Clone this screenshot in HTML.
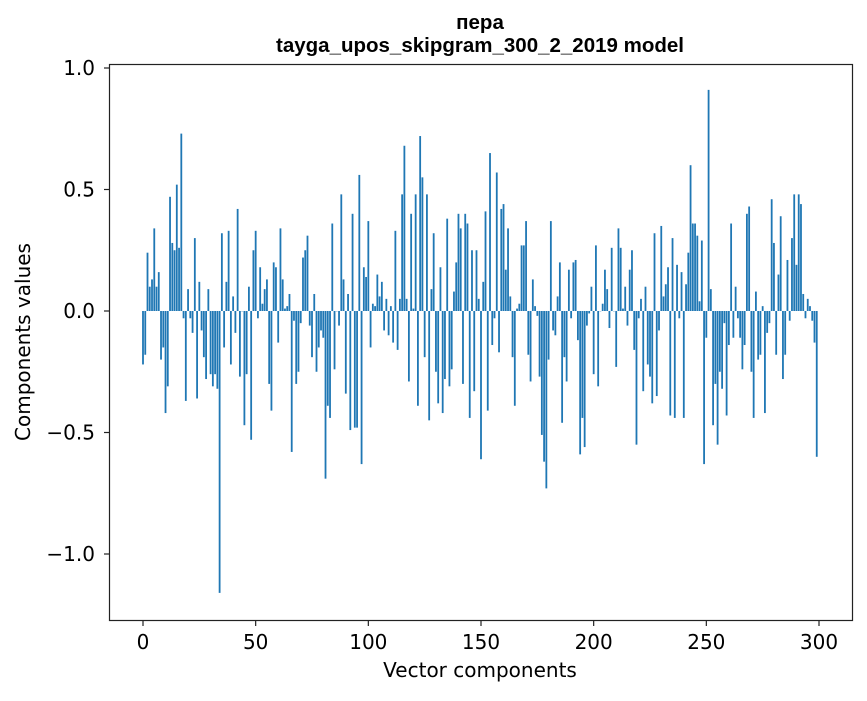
<!DOCTYPE html>
<html><head><meta charset="utf-8"><style>
body{margin:0;background:#fff;}
svg text{font-family:"DejaVu Sans","Liberation Sans",sans-serif;fill:#000;}
svg text.ttl{font-family:"Liberation Sans","DejaVu Sans",sans-serif;}
</style></head><body>
<svg id="chart" width="867" height="696" xmlns="http://www.w3.org/2000/svg">
<rect x="0" y="0" width="867" height="696" fill="#fff"/>
<text class="ttl" x="480" y="29" text-anchor="middle" font-size="20.5" font-weight="bold">пера</text>
<text class="ttl" x="480" y="52" text-anchor="middle" font-size="20.5" font-weight="bold">tayga_upos_skipgram_300_2_2019 model</text>
<g id="bars"></g>
<rect x="109.5" y="64.5" width="743" height="556" fill="none" stroke="#222" stroke-width="1.2"/>
<g id="xticks"></g>
<g id="yticks"></g>
<text x="480" y="677" text-anchor="middle" font-size="20">Vector components</text>
<text transform="translate(30,342) rotate(-90)" text-anchor="middle" font-size="20">Components values</text>
</svg>
<script>
const segA = [-0.22,-0.18,0.24,0.10,0.13,0.34,0.10,0.16,-0.20,-0.15,-0.42,-0.31,0.47,0.28,0.25,0.52,0.26,0.73,-0.03,-0.37,0.09,-0.03,-0.09,0.30,-0.36,0.12,-0.08,-0.19,-0.28,0.09,-0.26,-0.31,-0.26,-0.32,-1.16,0.32,-0.15,0.12,0.33,-0.22,0.06,-0.09,0.42,-0.27,0.00,-0.47,-0.26,0.10,-0.53,0.25,0.33,-0.03,0.18,0.03,0.09,0.13,-0.30,-0.41,0.20,0.18,-0.13,0.34,0.13,0.01,0.02,0.07,-0.58,-0.04,-0.30,-0.25,-0.05,0.22,0.25,0.31,-0.06,-0.19,0.07,-0.25,-0.15,-0.08,-0.11,-0.69,-0.39,-0.44,0.36,-0.24,0.00,-0.06,0.48,0.13,-0.34,0.07,-0.49,0.40,-0.48,-0.48,0.56,-0.63,0.18,0.14,0.37,-0.15,0.03,0.02,0.15,0.06,0.12,-0.08,0.05,-0.10,0.02,-0.13,0.33,-0.16,0.05,0.48,0.68,0.05,-0.29,0.40,0.01,0.48,-0.39,0.72,0.55,-0.19,0.48,-0.45,0.09,0.32,-0.25,-0.38,0.18,-0.42,-0.28,0.38,-0.31,-0.24,0.08,0.20,0.40,0.34];
const segMid = [-0.30,0.40,0.36,-0.44,0.25,-0.33,0.25];
const segB = [0.05,-0.61,0.12,0.41,-0.41,0.65,-0.14,-0.03,0.57,-0.17,0.42,0.44,0.17,0.34,0.06,-0.19,-0.39,0.01,0.03,0.27,0.27,0.37,-0.18,-0.29,0.13,0.02,-0.02,-0.27,-0.51,-0.62,-0.73,-0.20,0.37,-0.08,-0.10,0.06,0.20,-0.46,-0.19,-0.29,0.17,-0.03,0.20,0.21,-0.12,-0.59,-0.44,-0.56,-0.06,-0.01,0.10,-0.26,0.27,-0.31,0.00,0.03,0.17,0.09,-0.07,0.26,0.00,-0.23,0.34,0.26,0.01,0.10,-0.06,0.17,0.25,-0.16,-0.55,-0.03,0.05,-0.33,0.10,-0.22];
const segC = [-0.27,-0.38,0.32,-0.35,-0.08,0.35,0.06,0.11,0.18,-0.43,0.30,-0.44,0.19,-0.03,0.16,-0.44,0.11,0.24,0.60,0.36,0.36,0.31,0.04,0.29,-0.63,-0.11,0.91,0.09,-0.47,-0.30,-0.55,-0.25,-0.32,-0.05,-0.43,-0.14,0.36,-0.11,0.10,-0.03,-0.11,-0.24,-0.14,0.40,0.43,-0.25,-0.44,0.08,-0.20,-0.18,0.02,-0.42,-0.09,-0.05,0.46,0.28,-0.18,0.15,0.39,-0.28,-0.18,0.21,-0.04,0.30,0.48,0.19,0.48,0.44,0.07,-0.03,0.05,0.02,-0.04,-0.13,-0.60];
const values = segA.concat(segMid).concat(segB).concat(segC).slice(0,300);
const xTicks = [0,50,100,150,200,250,300];
const yTicks = [-1.0,-0.5,0.0,0.5,1.0];
const yTickLabels = ["\u22121.0","\u22120.5","0.0","0.5","1.0"];

const NS = "http://www.w3.org/2000/svg";
function xs(v){ return 143 + v*(819-143)/300; }
function ys(v){ return 311 - v*243; }
const bars = document.getElementById('bars');
values.forEach((v,i)=>{
  const r = document.createElementNS(NS,'rect');
  const x0 = xs(i-0.4), x1 = xs(i+0.4);
  const y0 = Math.min(ys(v), ys(0)), h = Math.abs(ys(v)-ys(0));
  r.setAttribute('x', x0); r.setAttribute('y', y0);
  r.setAttribute('width', x1-x0); r.setAttribute('height', Math.max(h,0.3));
  r.setAttribute('fill', '#1f77b4');
  
  
  bars.appendChild(r);
});
const xg = document.getElementById('xticks');
xTicks.forEach(t=>{
  const l = document.createElementNS(NS,'line');
  l.setAttribute('x1', xs(t)); l.setAttribute('x2', xs(t));
  l.setAttribute('y1', 620.5); l.setAttribute('y2', 626);
  l.setAttribute('stroke', '#222');
  l.setAttribute('stroke-width', '1.2');
  
  
  xg.appendChild(l);
  const tx = document.createElementNS(NS,'text');
  tx.setAttribute('x', xs(t)); tx.setAttribute('y', 649);
  tx.setAttribute('text-anchor', 'middle'); tx.setAttribute('font-size', '20');
  tx.textContent = t;
  
  
  xg.appendChild(tx);
});
const yg = document.getElementById('yticks');
yTicks.forEach((t,i)=>{
  const l = document.createElementNS(NS,'line');
  l.setAttribute('x1', 104); l.setAttribute('x2', 109.5);
  l.setAttribute('y1', ys(t)); l.setAttribute('y2', ys(t));
  l.setAttribute('stroke', '#222');
  l.setAttribute('stroke-width', '1.2');
  
  
  yg.appendChild(l);
  const tx = document.createElementNS(NS,'text');
  tx.setAttribute('x', 95); tx.setAttribute('y', ys(t)+7);
  tx.setAttribute('text-anchor', 'end'); tx.setAttribute('font-size', '20');
  tx.textContent = yTickLabels[i];
  
  
  yg.appendChild(tx);
});
</script>
</body></html>
